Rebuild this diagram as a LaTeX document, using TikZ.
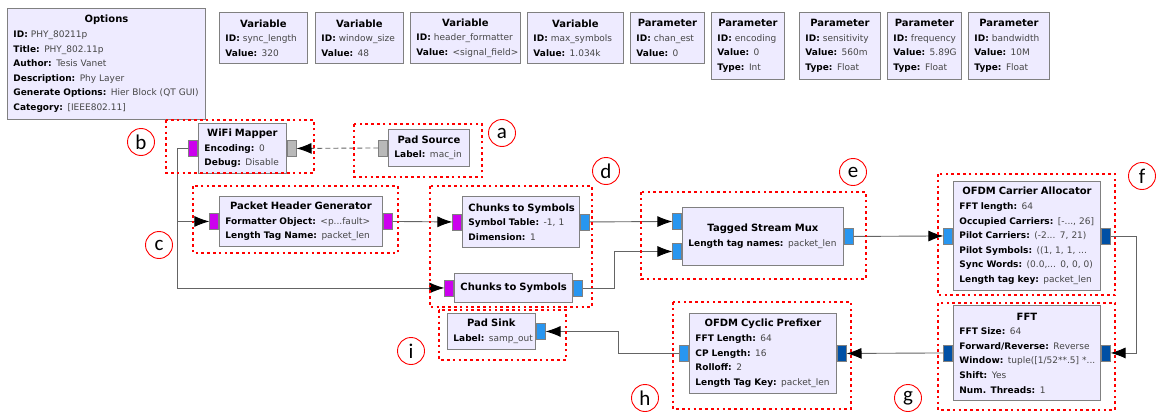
\documentclass[tikz,border=0pt]{standalone}
\usepackage{fontspec}
\setmainfont{DejaVu Sans}
\newfontfamily\tagfont{Carlito}
\usepackage{tikz}
\usetikzlibrary{arrows.meta}
\setlength{\parindent}{0pt}
\definecolor{blkfill}{RGB}{238,235,255}
\definecolor{blkline}{RGB}{128,128,128}
\definecolor{valgray}{RGB}{70,70,70}
\definecolor{portmag}{RGB}{204,0,238}
\definecolor{portblue}{RGB}{40,150,240}
\definecolor{portdark}{RGB}{0,80,165}
\definecolor{portgray}{RGB}{185,185,185}
\definecolor{wiregray}{RGB}{100,100,100}
\newcommand{\blkttl}[1]{{\centering\fontsize{10}{14.6}\selectfont\mbox{\textbf{#1}}\par}}
\newcommand{\kv}[2]{\mbox{\textbf{#1:} \textcolor{valgray}{#2}}\par}
\tikzset{
  grcblock/.style={draw=blkline, fill=blkfill, line width=0.9pt, anchor=north west,
    inner xsep=6pt, inner ysep=0pt, font=\fontsize{9}{14.6}\selectfont},
  port/.style={draw=blkline, line width=0.6pt, minimum width=9pt, minimum height=16pt, inner sep=0pt},
  wire/.style={draw=wiregray, line width=0.9pt, -{Latex[length=15pt,width=11pt,color=black]}},
  msgwire/.style={wire, dash pattern=on 5pt off 3pt},
  grp/.style={draw=red, line width=2.4pt, dash pattern=on 2.6pt off 3.2pt},
  tag/.style={circle, draw=red, line width=0.9pt, minimum size=27pt, inner sep=0pt,
    font=\tagfont\fontsize{21}{21}\selectfont}
}

\begin{document}
\begin{tikzpicture}[x=1pt, y=-1pt]
  \useasboundingbox (0,0) rectangle (1156,412);
  % Options, variables and parameters
  \node[grcblock, minimum width=198pt, minimum height=111pt, text width=186pt] (opt) at (7,8) {\blkttl{Options}
    \kv{ID}{PHY\_80211p}\kv{Title}{PHY\_802.11p}\kv{Author}{Tesis Vanet}\kv{Description}{Phy Layer}
    \kv{Generate Options}{Hier Block (QT GUI)}\kv{Category}{[IEEE802.11]}};
  \node[grcblock, minimum width=88pt, minimum height=51pt, text width=76pt] (varsync) at (219,12) {\blkttl{Variable}
    \kv{ID}{sync\_length}\kv{Value}{320}};
  \node[grcblock, minimum width=88pt, minimum height=51pt, text width=76pt] (varwin) at (315,12) {\blkttl{Variable}
    \kv{ID}{window\_size}\kv{Value}{48}};
  \node[grcblock, minimum width=110pt, minimum height=51pt, text width=98pt] (varhdr) at (410,12) {\blkttl{Variable}
    \kv{ID}{header\_formatter}\kv{Value}{<signal\_field>}};
  \node[grcblock, minimum width=96pt, minimum height=51pt, text width=84pt] (varmax) at (527,12) {\blkttl{Variable}
    \kv{ID}{max\_symbols}\kv{Value}{1.034k}};
  \node[grcblock, minimum width=74pt, minimum height=51pt, text width=62pt] (parchan) at (630,12) {\blkttl{Parameter}
    \kv{ID}{chan\_est}\kv{Value}{0}};
  \node[grcblock, minimum width=73pt, minimum height=67pt, text width=61pt] (parenc) at (711,12) {\blkttl{Parameter}
    \kv{ID}{encoding}\kv{Value}{0}\kv{Type}{Int}};
  \node[grcblock, minimum width=81pt, minimum height=67pt, text width=69pt] (parsens) at (799,12) {\blkttl{Parameter}
    \kv{ID}{sensitivity}\kv{Value}{560m}\kv{Type}{Float}};
  \node[grcblock, minimum width=74pt, minimum height=67pt, text width=62pt] (parfreq) at (887,12) {\blkttl{Parameter}
    \kv{ID}{frequency}\kv{Value}{5.89G}\kv{Type}{Float}};
  \node[grcblock, minimum width=81pt, minimum height=67pt, text width=69pt] (parbw) at (968,12) {\blkttl{Parameter}
    \kv{ID}{bandwidth}\kv{Value}{10M}\kv{Type}{Float}};

  % Processing blocks
  \node[grcblock, minimum width=88pt, minimum height=50pt, text width=76pt] (wm) at (198,123) {\blkttl{WiFi Mapper}
    \kv{Encoding}{0}\kv{Debug}{Disable}};
  \node[grcblock, minimum width=81pt, minimum height=37pt, text width=69pt] (psrc) at (388,129) {\blkttl{Pad Source}
    \kv{Label}{mac\_in}};
  \node[grcblock, minimum width=163pt, minimum height=50pt, text width=151pt] (phg) at (219,196) {\blkttl{Packet Header Generator}
    \kv{Formatter Object}{<p...fault>}\kv{Length Tag Name}{packet\_len}};
  \node[grcblock, minimum width=117pt, minimum height=51pt, text width=105pt] (cs1) at (462,196) {\blkttl{Chunks to Symbols}
    \kv{Symbol Table}{-1, 1}\kv{Dimension}{1}};
  \node[grcblock, minimum width=118pt, minimum height=29pt, text width=106pt] (cs2) at (454,273) {\blkttl{Chunks to Symbols}};
  \node[grcblock, minimum width=161pt, minimum height=58pt, text width=149pt] (tsm) at (682,207) {\blkttl{Tagged Stream Mux}
    \kv{Length tag names}{packet\_len}};
  \node[grcblock, minimum width=147pt, minimum height=109pt, text width=135pt] (oca) at (953,181) {\blkttl{OFDM Carrier Allocator}
    \kv{FFT length}{64}\kv{Occupied Carriers}{[-..., 26]}\kv{Pilot Carriers}{(-2... 7, 21)}
    \kv{Pilot Symbols}{((1, 1, 1, ...}\kv{Sync Words}{(0.0,... 0, 0, 0)}\kv{Length tag key}{packet\_len}};
  \node[grcblock, minimum width=147pt, minimum height=95pt, text width=135pt] (fft) at (953,305) {\blkttl{FFT}
    \kv{FFT Size}{64}\kv{Forward/Reverse}{Reverse}\kv{Window}{tuple([1/52**.5] *...}
    \kv{Shift}{Yes}\kv{Num. Threads}{1}};
  \node[grcblock, minimum width=147pt, minimum height=80pt, text width=135pt] (ocp) at (689,313) {\blkttl{OFDM Cyclic Prefixer}
    \kv{FFT Length}{64}\kv{CP Length}{16}\kv{Rolloff}{2}\kv{Length Tag Key}{packet\_len}};
  \node[grcblock, minimum width=88pt, minimum height=36pt, text width=76pt] (psink) at (447,313) {\blkttl{Pad Sink}
    \kv{Label}{samp\_out}};

  % Ports
  \node[port, fill=portmag, anchor=east] (wmIn) at (wm.west) {};
  \node[port, fill=portgray, anchor=west] (wmOut) at (wm.east) {};
  \node[port, fill=portgray, anchor=east] (psrcOut) at (psrc.west) {};
  \node[port, fill=portmag, anchor=east] (phgIn) at (phg.west) {};
  \node[port, fill=portmag, anchor=west] (phgOut) at (phg.east) {};
  \node[port, fill=portmag, anchor=east] (cs1In) at (cs1.west) {};
  \node[port, fill=portblue, anchor=west] (cs1Out) at (cs1.east) {};
  \node[port, fill=portmag, anchor=east] (cs2In) at (cs2.west) {};
  \node[port, fill=portblue, anchor=west] (cs2Out) at (cs2.east) {};
  \node[port, fill=portblue, anchor=east] (tsmIn0) at ([yshift=15pt]tsm.west) {};
  \node[port, fill=portblue, anchor=east] (tsmIn1) at ([yshift=-15pt]tsm.west) {};
  \node[port, fill=portblue, anchor=west] (tsmOut) at (tsm.east) {};
  \node[port, fill=portblue, anchor=east] (ocaIn) at (oca.west) {};
  \node[port, fill=portdark, anchor=west] (ocaOut) at (oca.east) {};
  \node[port, fill=portdark, anchor=west] (fftIn) at (fft.east) {};
  \node[port, fill=portdark, anchor=east] (fftOut) at (fft.west) {};
  \node[port, fill=portdark, anchor=west] (ocpIn) at (ocp.east) {};
  \node[port, fill=portblue, anchor=east] (ocpOut) at (ocp.west) {};
  \node[port, fill=portblue, anchor=west] (psinkIn) at (psink.east) {};

  % Connections
  \draw[msgwire] (psrcOut.west) -- (wmOut.east);
  \draw[wire] (wmIn.west) -- ++(-11,0) |- (phgIn.west);
  \draw[wire] (wmIn.west) -- ++(-11,0) |- (cs2In.west);
  \draw[wire] (phgOut.east) -- (cs1In.west);
  \draw[wire] (cs1Out.east) -- (tsmIn0.west);
  \draw[wire] (cs2Out.east) -- ++(32,0) |- (tsmIn1.west);
  \draw[wire] (tsmOut.east) -- (ocaIn.west);
  \draw[wire] (ocaOut.east) -- ++(26,0) |- (fftIn.east);
  \draw[wire] (fftOut.west) -- (ocpIn.east);
  \draw[wire] (ocpOut.west) -- ++(-61,0) |- (psinkIn.east);

  % Red dotted groups and their letters
  \draw[grp] (354,124) rectangle (482,177);
  \draw[grp] (166,120) rectangle (314,173);
  \draw[grp] (193,186) rectangle (398,253);
  \draw[grp] (430,186) rectangle (592,307);
  \draw[grp] (641,192) rectangle (866,279);
  \draw[grp] (938,174) rectangle (1115,295);
  \draw[grp] (938,303) rectangle (1115,410);
  \draw[grp] (673,302) rectangle (851,409);
  \draw[grp] (439,310) rectangle (566,360);
  \node[tag] (taga) at (502,133) {a};
  \node[tag] (tagb) at (141,142) {b};
  \node[tag] (tagc) at (159,245) {c};
  \node[tag] (tagd) at (606,171) {d};
  \node[tag] (tage) at (853,172) {e};
  \node[tag] (tagf) at (1142,176) {f};
  \node[tag] (tagg) at (908,398) {g};
  \node[tag] (tagh) at (645,398) {h};
  \node[tag] (tagi) at (411,351) {i};
\end{tikzpicture}
\end{document}
